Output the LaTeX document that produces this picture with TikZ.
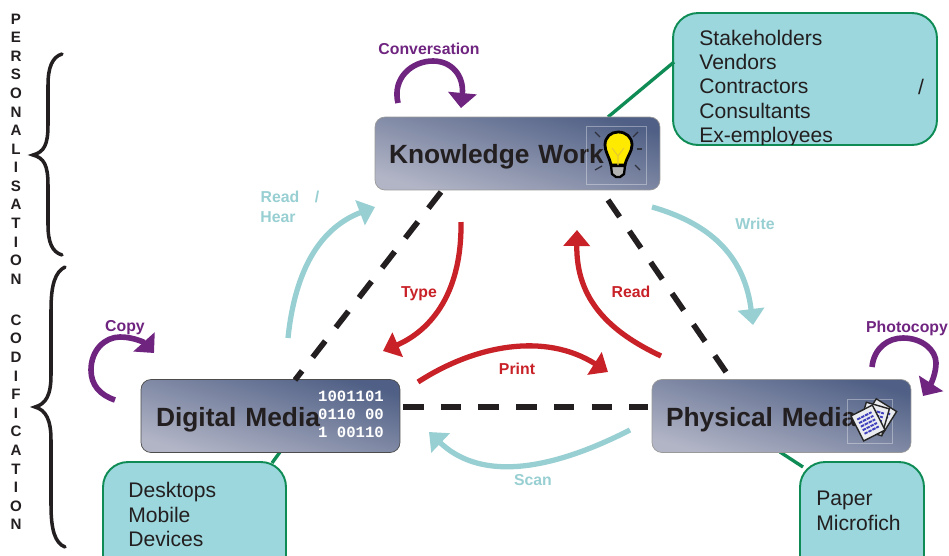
\documentclass[tikz,border=0pt]{standalone}
\usepackage{fontspec}
\setmainfont{Liberation Sans}
\setmonofont{Liberation Mono}
\usetikzlibrary{arrows.meta}
\definecolor{boxdark}{HTML}{4F5F85}
\definecolor{boxlight}{HTML}{B2B5C6}
\definecolor{calloutfill}{HTML}{9BD7DD}
\definecolor{calloutline}{HTML}{0F8C55}
\definecolor{loopcol}{HTML}{6F2480}
\definecolor{tealcol}{HTML}{98CFD2}
\definecolor{redcol}{HTML}{C82127}
\definecolor{inkcol}{HTML}{231F20}
\tikzset{
  mediabox/.style={draw=black!40, rounded corners=0.2cm, minimum height=1.46cm, inner sep=0pt,
    top color=boxdark, bottom color=boxlight, shading angle=-16,
    text=inkcol, text height=0.5cm, text depth=0.1cm, font=\bfseries\fontsize{15}{18}\selectfont},
  callout/.style={draw=calloutline, line width=1.1pt, fill=calloutfill, rounded corners=0.5cm},
  calltext/.style={text=inkcol, align=left, anchor=north west, inner sep=0pt,
    font=\fontsize{12}{13.9}\selectfont},
  greenline/.style={calloutline, line width=1.9pt},
  triedge/.style={inkcol, line width=3.2pt, dash pattern=on 0.41cm off 0.345cm},
  loopline/.style={loopcol, line width=3.2pt, -{Triangle[length=0.3cm,width=0.56cm]}},
  tealline/.style={tealcol, line width=3pt, -{Triangle[length=0.32cm,width=0.52cm]}},
  redline/.style={redcol, line width=3pt, -{Triangle[length=0.32cm,width=0.52cm]}},
  flowlabel/.style={font=\bfseries\fontsize{9}{12}\selectfont, inner sep=0pt},
  sideletter/.style={text=inkcol, inner sep=0pt, font=\bfseries\fontsize{8.6}{10}\selectfont},
  bracket/.style={inkcol, line width=2pt, line cap=round},
  iconframe/.style={draw=white, draw opacity=0.35, line width=0.4pt}
}
\begin{document}
\begin{tikzpicture}[x=0.02cm, y=-0.02cm]
\useasboundingbox (0,0) rectangle (949,555);
% callouts first, the media boxes sit on top
\node [callout, minimum width=5.28cm, minimum height=2.64cm] (people) at (805,79) {};
\begin{scope}
\clip (673,13) rectangle (937,144);
\node [calltext] (peoplelist) at (699,29.5) {Stakeholders\\Vendors\\Contractors\\Consultants\\Ex-employees};
\end{scope}
\node [inner sep=0pt, text=inkcol, font=\fontsize{12}{13.9}\selectfont] (slash) at (921,87) {/};
\begin{scope}
\clip (0,0) rectangle (949,555);
\node [callout, minimum width=3.66cm, minimum height=2.4cm] (devices) at (194.5,522) {};
\node [callout, minimum width=2.48cm, minimum height=2.4cm] (paper) at (862,522) {};
\end{scope}
\node [calltext] (devicelist) at (128,482) {Desktops\\Mobile\\Devices};
\node [calltext] (paperlist) at (816,491) {Paper\\Microfich};
% green connectors
\coordinate (kgreen) at (608,117);
\coordinate (cgreen) at (674,62);
\coordinate (dgreen) at (280,452);
\coordinate (egreen) at (272,463);
\coordinate (pgreen) at (780,452);
\coordinate (qgreen) at (803,467);
\draw [greenline] (kgreen) -- (cgreen);
\draw [greenline] (dgreen) -- (egreen);
\draw [greenline] (pgreen) -- (qgreen);
% media boxes
\node [mediabox, minimum width=5.7cm, text width=5.14cm] (know) at (517.5,153.5) {Knowledge Work};
\node [mediabox, draw=black!70, minimum width=5.18cm, text width=4.58cm] (digital) at (270.5,416) {Digital Media};
\node [mediabox, minimum width=5.18cm, text width=4.62cm] (physical) at (781.5,416) {Physical Media};
% dashed triangle
\coordinate (ka) at (441,192);
\coordinate (da) at (295,380);
\coordinate (kb) at (608,200);
\coordinate (pb) at (726,372);
\coordinate (dc) at (403,407);
\coordinate (pc) at (648,407);
\draw [triedge] (ka) -- (da);
\draw [triedge] (kb) -- (pb);
\draw [triedge] (dc) -- (pc);
% binary digits
\node [text=white, align=right, inner sep=0pt, font=\ttfamily\bfseries\fontsize{8.9}{10.2}\selectfont] (bits) at (351,414) {1001101\\0110~00\\1~00110};
% bulb
\draw [iconframe] (586,126) rectangle (646,184);
\foreach \a/\b/\c/\d in {595/132/600/137, 638/132/633/137, 637/149/642/149, 635/165/640/170, 595/170/602/166}
  \draw [inkcol!70!boxdark, line width=0.7pt] (\a,\b) -- (\c,\d);
\draw [black, line width=1.6pt, fill=yellow!92!orange] (611,165) .. controls (609,156) and (605,152) .. (605,145)
  .. controls (605,137) and (611,132) .. (618,132) .. controls (626,132) and (632,137) .. (632,145)
  .. controls (632,152) and (627,156) .. (625,165) -- cycle;
\draw [black, fill=black!30, line width=1.3pt] (611,166) -- (625,166) -- (624,174) -- (620,177) -- (616,177) -- (612,174) -- cycle;
\draw [yellow!60!brown, line width=0.6pt] (612,148) -- (618,156) -- (624,148) (618,156) -- (618,165);
% papers
\draw [iconframe] (847,399) rectangle (892,443);
\foreach \r/\x/\y in {-32/879/417, -16/874/419, 27/868/423} {
  \begin{scope}[shift={(\x,\y)}, rotate=\r]
  \draw [black!85, fill=white!88!boxdark, line width=0.8pt] (-12,-14) rectangle (12,14);
  \foreach \l in {-8,-4,0,4,8}
    \draw [blue!50!gray, line width=1.1pt, dash pattern=on 2pt off 0.5pt] (-8,\l) -- (8,\l);
  \end{scope}
}
% loops
\coordinate (conva) at (398,103);
\coordinate (convb) at (461,108);
\coordinate (copya) at (115,400);
\coordinate (copyb) at (154,353);
\coordinate (phota) at (872,367);
\coordinate (photb) at (923,396);
\draw [loopline] (conva) .. controls (392,78) and (412,61) .. (433,61) .. controls (452,61) and (464,76) .. (convb);
\draw [loopline] (copya) .. controls (100,395) and (91,385) .. (91,370) .. controls (91,350) and (105,337) .. (120,337) .. controls (134,337) and (145,343) .. (copyb);
\draw [loopline] (phota) .. controls (874,348) and (888,338) .. (903,338) .. controls (922,338) and (936,350) .. (936,363) .. controls (936,372) and (932,382) .. (photb);
% flows
\coordinate (hearA) at (288,338);
\coordinate (hearB) at (375,207);
\coordinate (writeA) at (652,207);
\coordinate (writeB) at (753,325);
\coordinate (scanA) at (630,430);
\coordinate (scanB) at (429,432);
\coordinate (typeA) at (461,222);
\coordinate (typeB) at (383,351);
\coordinate (readA) at (661,356);
\coordinate (readB) at (577,230);
\coordinate (printA) at (418,382);
\coordinate (printB) at (608,372);
\draw [tealline] (hearA) .. controls (295,270) and (320,228) .. (hearB);
\draw [tealline] (writeA) .. controls (715,225) and (745,260) .. (writeB);
\draw [tealline] (scanA) .. controls (575,458) and (490,490) .. (scanB);
\draw [redline] (typeA) .. controls (462,300) and (425,333) .. (typeB);
\draw [redline] (readA) .. controls (610,332) and (576,300) .. (readB);
\draw [redline] (printA) .. controls (475,345) and (545,332) .. (printB);
% labels
\node [flowlabel, text=loopcol] (lconv) at (429,48.5) {Conversation};
\node [flowlabel, text=loopcol] (lcopy) at (125,328) {Copy};
\node [flowlabel, text=loopcol] (lphot) at (907,328) {Photocopy};
\node [flowlabel, text=tealcol] (lread) at (280,197) {Read};
\node [flowlabel, text=tealcol] (lslash) at (317,197) {/};
\node [flowlabel, text=tealcol] (lhear) at (278,217) {Hear};
\node [flowlabel, text=tealcol] (lwrite) at (755,224) {Write};
\node [flowlabel, text=tealcol] (lscan) at (533,480) {Scan};
\node [flowlabel, text=redcol] (ltype) at (419,294) {Type};
\node [flowlabel, text=redcol] (lrd) at (631,292) {Read};
\node [flowlabel, text=redcol] (lprint) at (517,369) {Print};
% side text
\foreach \c [count=\i from 0] in {P,E,R,S,O,N,A,L,I,S,A,T,I,O,N}
  \node [sideletter] (pers\i) at (16,{19+18.57*\i}) {\c};
\foreach \c [count=\i from 0] in {C,O,D,I,F,I,C,A,T,I,O,N}
  \node [sideletter] (codi\i) at (16,{320+18.6*\i}) {\c};
% braces
\coordinate (persTop) at (62,54);
\coordinate (persTip) at (33,155);
\coordinate (persEnd) at (62,255);
\coordinate (codiTop) at (65,267);
\coordinate (codiTip) at (35,407);
\coordinate (codiEnd) at (65,547);
\draw [bracket] (persTop) .. controls (52,57) and (48,68) .. (48,85) -- (48,125) .. controls (48,145) and (44,152) .. (persTip)
  .. controls (44,158) and (48,165) .. (48,185) -- (48,225) .. controls (48,242) and (52,252) .. (persEnd);
\draw [bracket] (codiTop) .. controls (55,272) and (51,285) .. (51,310) -- (51,375) .. controls (51,395) and (46,404) .. (codiTip)
  .. controls (46,410) and (51,420) .. (51,440) -- (51,505) .. controls (51,530) and (55,543) .. (codiEnd);
\end{tikzpicture}
\end{document}
